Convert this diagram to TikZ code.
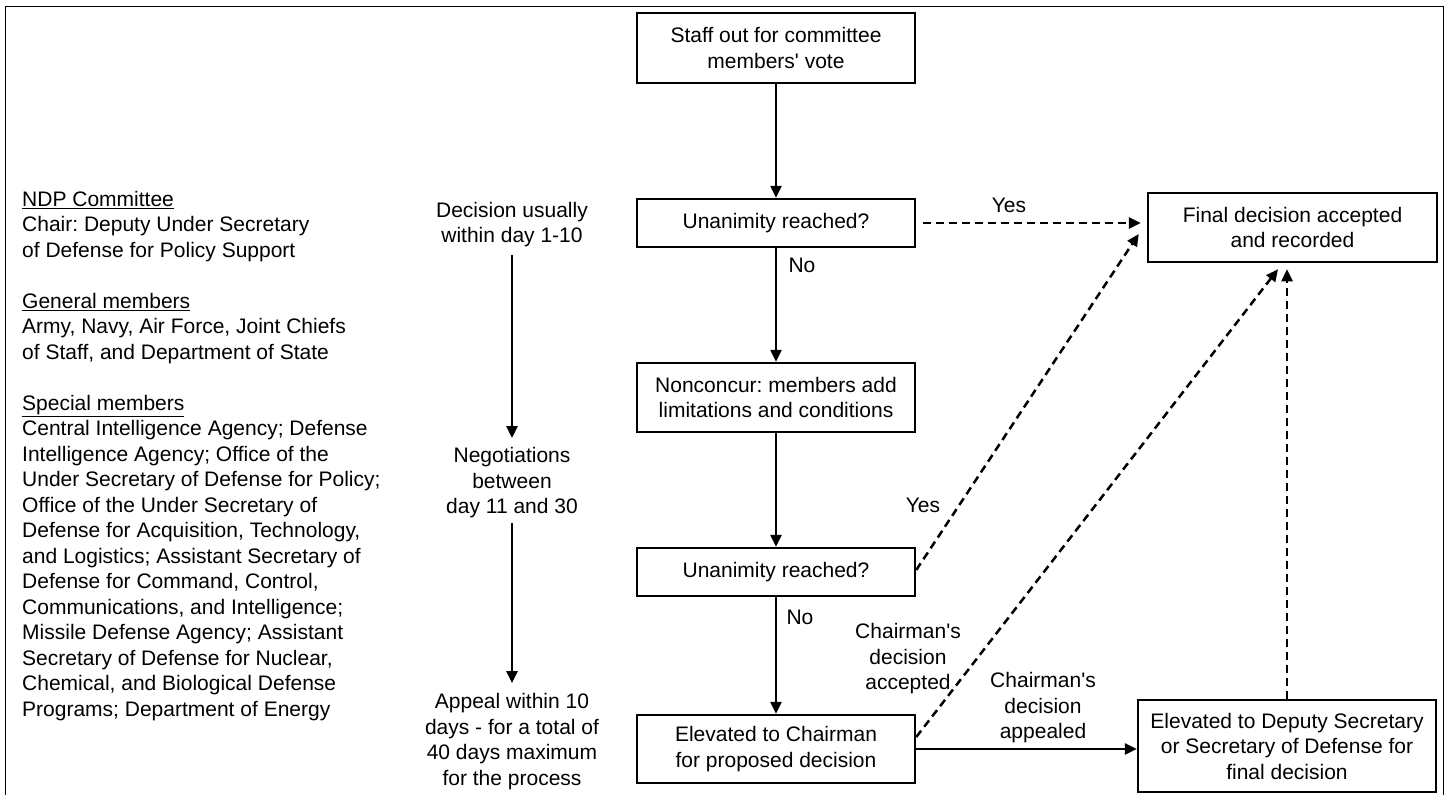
\documentclass[tikz,border=0pt]{standalone}
\usepackage{fontspec}
\setmainfont{Liberation Sans}
\usetikzlibrary{arrows.meta,calc}
\frenchspacing
\newcommand{\apos}{\textquotesingle}
\begin{document}
\begin{tikzpicture}[x=1pt,y=-1pt,
  font=\fontsize{21}{25.5}\selectfont,
  box/.style={draw,line width=2.5pt,align=center,inner sep=2pt,minimum width=278pt},
  lbl/.style={align=center,inner sep=0pt},
  arr/.style={line width=2.5pt,-{Triangle[length=12pt,width=11pt]}},
  darr/.style={line width=2.5pt,dash pattern=on 8pt off 5pt,-{Triangle[length=12pt,width=11pt]}}]
\useasboundingbox (0,0) rectangle (1449,795);
\draw[line width=1.8pt] (5.5,800) -- (5.5,6.5) -- (1443.5,6.5) -- (1443.5,800);

% left legend
\node[anchor=north west,align=left,inner sep=0pt] (legend) at (22,191) {%
\underline{NDP Committee}\\
Chair: Deputy Under Secretary\\
of Defense for Policy Support\\
\mbox{}\\
\underline{General members}\\
Army, Navy, Air Force, Joint Chiefs\\
of Staff, and Department of State\\
\mbox{}\\
\underline{Special members}\\
Central Intelligence Agency; Defense\\
Intelligence Agency; Office of the\\
Under Secretary of Defense for Policy;\\
Office of the Under Secretary of\\
Defense for Acquisition, Technology,\\
and Logistics; Assistant Secretary of\\
Defense for Command, Control,\\
Communications, and Intelligence;\\
Missile Defense Agency; Assistant\\
Secretary of Defense for Nuclear,\\
Chemical, and Biological Defense\\
Programs; Department of Energy};

% timeline
\node[lbl] (dec) at (512,224.5) {Decision usually\\within day 1-10};
\node[lbl] (neg) at (512,483) {Negotiations\\between\\day 11 and 30};
\node[lbl] (app) at (512,741.5) {Appeal within 10\\days - for a total of\\40 days maximum\\for the process};
\draw[arr] ([yshift=-30.5pt]dec.center) -- ([yshift=45pt]neg.center);
\draw[arr] ([yshift=-40pt]neg.center) -- ([yshift=58.5pt]app.center);

% main flow
\node[box,minimum height=70pt] (staff) at (776,48) {Staff out for committee\\members\apos{} vote};
\node[box,minimum height=48pt] (u1) at (776,223) {Unanimity reached?};
\node[box,minimum height=69pt] (nonc) at (776,397.5) {Nonconcur: members add\\limitations and conditions};
\node[box,minimum height=48pt] (u2) at (776,572) {Unanimity reached?};
\node[box,minimum height=68pt] (chair) at (776,749) {Elevated to Chairman\\for proposed decision};
\node[box,minimum width=289pt,minimum height=69pt] (final) at (1292.5,227.5) {Final decision accepted\\and recorded};
\node[box,minimum width=298pt,minimum height=92pt] (dep) at (1287,746) {Elevated to Deputy Secretary\\or Secretary of Defense for\\final decision};

\draw[arr] (staff) -- (u1);
\draw[arr] (u1) -- (nonc);
\draw[arr] (nonc) -- (u2);
\draw[arr] (u2) -- (chair);
\draw[arr] (chair.east) -- (chair.east -| dep.west);

\draw[darr,shorten <=7pt,shorten >=6pt] (u1.east) -- (u1.east -| final.west);
\draw[darr] ([yshift=2pt]u2.east) -- ([xshift=-8pt,yshift=-6.5pt]final.west);
\draw[darr] ([yshift=12pt]chair.east) -- ([xshift=-14.5pt,yshift=-6pt]final.south);
\draw[darr] (dep.north) -- ([yshift=-6pt]final.south -| dep.north);

% labels
\node[lbl] (yes1) at (1009,205) {Yes};
\node[lbl] (no1) at (802,265) {No};
\node[lbl] (yes2) at (923,505) {Yes};
\node[lbl] (no2) at (800,617) {No};
\node[lbl] (acc) at (908,659) {Chairman\apos{}s\\decision\\accepted};
\node[lbl] (appd) at (1043,708) {Chairman\apos{}s\\decision\\appealed};
\end{tikzpicture}
\end{document}
